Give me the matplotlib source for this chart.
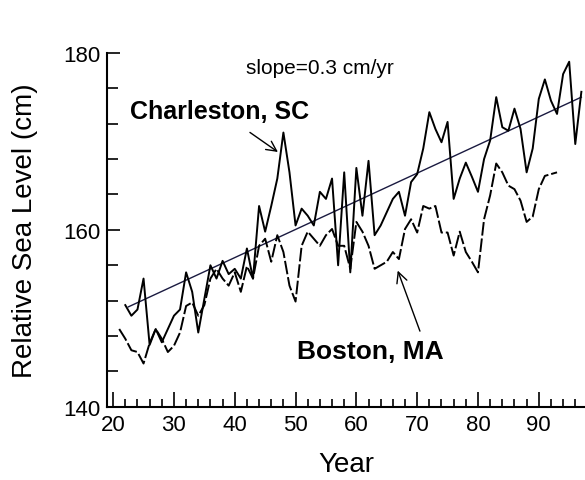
import matplotlib
matplotlib.use('Agg')
import matplotlib.pyplot as plt
from matplotlib.ticker import MultipleLocator

plt.rcParams['font.family'] = ['Liberation Sans', 'DejaVu Sans']

# Charleston, SC (annual mean, cm)
charleston_years = list(range(22, 98))
charleston_level = [
    151.5, 150.3, 151.0, 154.5, 147.0, 148.8, 147.3, 148.8, 150.3, 151.0,
    155.2, 153.0, 148.4, 152.2, 156.0, 154.5, 156.5, 155.0, 155.6, 154.5,
    157.9, 154.5, 162.7, 159.8, 162.7, 165.8, 171.0, 166.5, 160.5, 162.4,
    161.6, 160.5, 164.3, 163.5, 165.8, 156.0, 166.5, 155.2, 167.0, 161.6,
    167.8, 159.4, 160.5, 162.0, 163.5, 164.3, 161.6, 165.4, 166.3, 169.2,
    173.3, 171.4, 169.9, 172.2, 163.5, 165.8, 167.6, 166.0, 164.3, 168.0,
    170.1, 175.0, 171.6, 171.2, 173.7, 171.4, 166.5, 169.2, 174.8, 177.0,
    174.6, 173.1, 177.6, 179.0, 169.7, 175.6,
]

# Boston, MA (annual mean, cm)
boston_years = list(range(21, 94))
boston_level = [
    148.8, 147.7, 146.4, 146.2, 144.9, 147.2, 148.8, 147.7, 146.2, 146.9,
    148.4, 151.4, 151.8, 150.3, 151.5, 154.5, 155.6, 154.5, 153.7, 155.2,
    153.0, 155.9, 154.5, 158.2, 159.0, 156.4, 159.4, 157.5, 153.7, 151.9,
    158.2, 159.8, 159.0, 158.2, 159.4, 160.1, 158.2, 158.2, 155.6, 160.9,
    159.8, 158.2, 155.6, 156.0, 156.4, 157.5, 156.7, 160.1, 161.2, 159.7,
    162.7, 162.4, 162.7, 159.7, 159.7, 157.1, 159.8, 157.5, 156.4, 155.2,
    161.2, 163.9, 167.5, 166.5, 165.0, 164.6, 163.3, 160.9, 161.5, 164.6,
    166.1, 166.3, 166.5,
]

# fitted trend line end points
trend_years = [22.5, 97]
trend_level = [151.3, 175.0]

fig = plt.figure(figsize=(5.85, 4.81), dpi=100)
ax = fig.add_axes([0.183, 0.152, 0.817, 0.736])

ax.plot(trend_years, trend_level, color='#1a1a40', lw=1.0)
ax.plot(charleston_years, charleston_level, color='black', lw=1.4)
ax.plot(boston_years, boston_level, color='black', lw=1.4, dashes=(7, 1.5))

ax.set_xlim(19, 97.6)
ax.set_ylim(140, 180)

ax.spines['top'].set_visible(False)
ax.spines['right'].set_visible(False)
ax.spines['left'].set_linewidth(1.5)
ax.spines['bottom'].set_linewidth(1.5)

ax.xaxis.set_major_locator(MultipleLocator(10))
ax.xaxis.set_minor_locator(MultipleLocator(2))
ax.yaxis.set_major_locator(MultipleLocator(20))
ax.yaxis.set_minor_locator(MultipleLocator(4))
ax.tick_params(axis='x', which='major', direction='in', length=11, width=1.2,
               labelsize=16, pad=5)
ax.tick_params(axis='x', which='minor', direction='in', length=6, width=1.2)
ax.tick_params(axis='y', which='major', direction='in', length=9, width=1.2,
               labelsize=16, pad=5)
ax.tick_params(axis='y', which='minor', direction='in', length=8, width=1.2)

ax.set_xlabel('Year', fontsize=20, labelpad=12)
ax.set_ylabel('Relative Sea Level (cm)', fontsize=20, labelpad=18)

ax.text(54, 178.4, 'slope=0.3 cm/yr', fontsize=15, ha='center', va='center')

ax.annotate('Charleston, SC', xy=(47.1, 168.8), xytext=(22.8, 173.4),
            fontsize=18, fontweight='bold', ha='left', va='center',
            arrowprops=dict(arrowstyle='->', color='black', lw=1.0,
                            shrinkA=8, shrinkB=0))
ax.annotate('Boston, MA', xy=(66.8, 155.4), xytext=(50.2, 146.3),
            fontsize=19, fontweight='bold', ha='left', va='center',
            arrowprops=dict(arrowstyle='->', color='black', lw=1.0,
                            relpos=(0.86, 1.0), shrinkA=4, shrinkB=0))

fig.savefig('out.png', dpi=100)
